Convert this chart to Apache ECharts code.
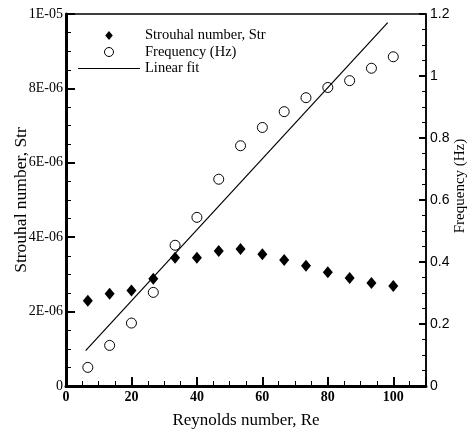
<!DOCTYPE html>
<html><head><meta charset="utf-8">
<script src="https://cdn.jsdelivr.net/npm/echarts@6/dist/echarts.min.js"></script>
<style>html,body{margin:0;padding:0;background:#fff}#c{width:470px;height:429px}</style>
</head><body><div id="c"></div>
<script>
const reynolds = [6.67, 13.33, 20, 26.67, 33.33, 40, 46.67, 53.33, 60, 66.67, 73.33, 80, 86.67, 93.33, 100];
const strouhal = [2.29e-6, 2.48e-6, 2.57e-6, 2.88e-6, 3.45e-6, 3.45e-6, 3.63e-6, 3.68e-6, 3.54e-6, 3.39e-6, 3.23e-6, 3.06e-6, 2.90e-6, 2.77e-6, 2.69e-6];
const frequency = [0.060, 0.131, 0.203, 0.302, 0.454, 0.544, 0.667, 0.775, 0.834, 0.885, 0.930, 0.963, 0.985, 1.025, 1.062];
const fitRe = [6.0, 98.3];
const fitFreq = [0.114, 1.172];
const seriesNames = ['Strouhal number, Str', 'Frequency (Hz)', 'Linear fit'];
const axisNames = ['Reynolds number, Re', 'Strouhal number, Str', 'Frequency (Hz)'];

const serif = '"Liberation Serif", "Times New Roman", serif';
const sans = '"Liberation Sans", Arial, sans-serif';
function sci(v){
  if (Math.abs(v) < 1e-12) return '0';
  const s = v.toExponential(0);
  const m = s.split('e');
  let e = parseInt(m[1],10);
  const sign = e < 0 ? '-' : '+';
  e = Math.abs(e);
  return m[0] + 'E' + sign + (e < 10 ? '0' + e : e);
}
const icons = [
  'path://M0,-5L4.2,0L0,5L-4.2,0Z',
  'path://M5,0A5,5,0,1,1,-5,0A5,5,0,1,1,5,0Z',
  'path://M0,-0.6L62,-0.6L62,0.6L0,0.6Z'
];
const chart = echarts.init(document.getElementById('c'));
chart.setOption({
  animation: false,
  backgroundColor: '#fff',
  grid: {left: 66, right: 44, top: 14, bottom: 43, outerBoundsMode: 'none', containLabel: false,
         show: true, borderColor: '#000', borderWidth: 1.5, backgroundColor: 'transparent'},
  legend: {
    orient: 'vertical', left: 73, top: 23, itemWidth: 62, itemHeight: 9, itemGap: 1.5,
    symbolKeepAspect: true,
    textStyle: {fontFamily: serif, fontSize: 14.5, color: '#000'},
    data: [
      {name: seriesNames[0], icon: icons[0], itemStyle: {color: '#000', borderWidth: 0}},
      {name: seriesNames[1], icon: icons[1], itemStyle: {color: '#fff', borderColor: '#000', borderWidth: 1}},
      {name: seriesNames[2], icon: icons[2], itemStyle: {color: '#000', borderWidth: 0}}
    ]
  },
  xAxis: {
    type: 'value', min: 0, max: 110, interval: 20,
    name: axisNames[0], nameLocation: 'middle', nameGap: 26, nameMoveOverlap: false,
    nameTextStyle: {fontFamily: serif, fontSize: 17, color: '#000'},
    axisLine: {lineStyle: {color: '#000', width: 3}},
    axisTick: {inside: true, length: 9, lineStyle: {color: '#000', width: 2}},
    minorTick: {show: true, splitNumber: 4, length: 5, lineStyle: {color: '#000', width: 1}},
    splitLine: {show: false},
    axisLabel: {fontFamily: serif, fontSize: 14, fontWeight: 'bold', color: '#000', margin: 4, showMaxLabel: false}
  },
  yAxis: [{
    type: 'value', min: 0, max: 1e-5, interval: 2e-6,
    name: axisNames[1], nameLocation: 'middle', nameGap: 36, nameRotate: 90, nameMoveOverlap: false,
    nameTextStyle: {fontFamily: serif, fontSize: 17.5, color: '#000'},
    axisLine: {show: true, lineStyle: {color: '#000', width: 3}},
    axisTick: {show: true, inside: true, length: 9, lineStyle: {color: '#000', width: 2}},
    minorTick: {show: true, splitNumber: 4, length: 5, lineStyle: {color: '#000', width: 1}},
    splitLine: {show: false},
    axisLabel: {fontFamily: serif, fontSize: 14, color: '#000', margin: 3, formatter: sci}
  }, {
    type: 'value', min: 0, max: 1.2, interval: 0.2, position: 'right',
    name: axisNames[2], nameLocation: 'middle', nameGap: 27, nameRotate: 90, nameMoveOverlap: false,
    nameTextStyle: {fontFamily: serif, fontSize: 15, color: '#000', padding: [0, 0, 0, 28]},
    axisLine: {show: true, lineStyle: {color: '#000', width: 1.5}},
    axisTick: {show: true, inside: true, length: 7, lineStyle: {color: '#000', width: 2}},
    minorTick: {show: true, splitNumber: 4, length: 4, lineStyle: {color: '#000', width: 1}},
    splitLine: {show: false},
    axisLabel: {fontFamily: sans, fontSize: 14, color: '#000', margin: 4, formatter: v => String(+v.toFixed(2))}
  }],
  series: [{
    name: seriesNames[0], type: 'scatter', yAxisIndex: 0, symbol: 'diamond', symbolSize: [10, 12],
    itemStyle: {color: '#000', opacity: 1},
    data: reynolds.map((r, i) => [r, strouhal[i]])
  }, {
    name: seriesNames[1], type: 'scatter', yAxisIndex: 1, symbol: 'circle', symbolSize: 10,
    itemStyle: {color: '#fff', borderColor: '#000', borderWidth: 1, opacity: 1},
    data: reynolds.map((r, i) => [r, frequency[i]])
  }, {
    name: seriesNames[2], type: 'line', yAxisIndex: 1, symbol: 'none', showSymbol: false,
    lineStyle: {color: '#000', width: 1.2}, itemStyle: {color: '#000'},
    data: fitRe.map((r, i) => [r, fitFreq[i]])
  }]
});
</script></body></html>
